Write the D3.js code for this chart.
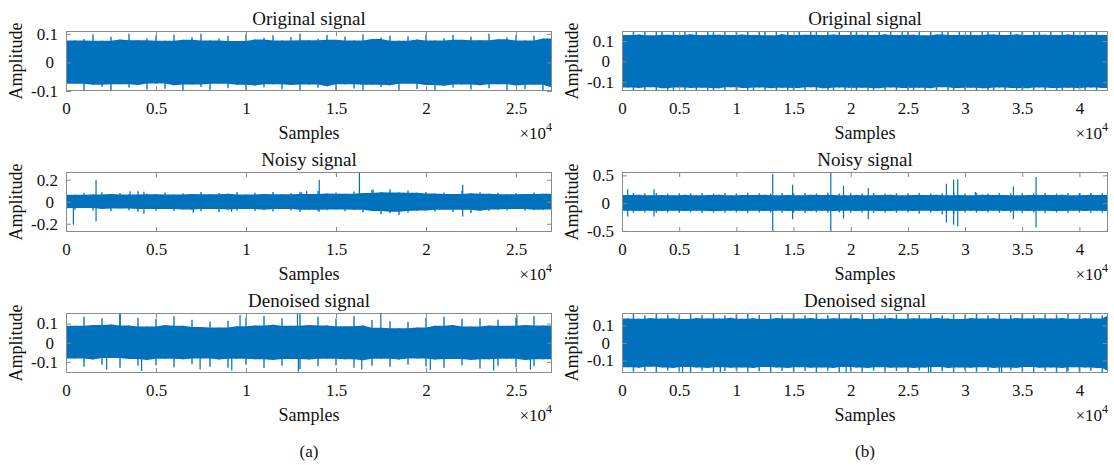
<!DOCTYPE html>
<html>
<head>
<meta charset="utf-8">
<title>Signals</title>
<script src="https://cdnjs.cloudflare.com/ajax/libs/d3/7.8.5/d3.min.js"></script>
<style>
body { margin: 0; background: #fff; }
text { font-family: "Liberation Serif", "Times New Roman", Tinos, "DejaVu Serif", serif; fill: #111; }
.box { fill: none; stroke: #8a8a8a; stroke-width: 1; }
.axis path { display: none; }
.axis line { stroke: #8a8a8a; }
.axis text { font-family: "Liberation Serif", "Times New Roman", Tinos, "DejaVu Serif", serif; font-size: 17px; fill: #111; }
.core { fill: #0072bd; stroke: none; }
.peak { stroke: #0072bd; stroke-width: 1.5; stroke-opacity: 0.9; }
.spike { stroke: #0072bd; stroke-width: 1.2; }
</style>
</head>
<body>
<svg width="1114" height="465"></svg>
<script>
// envelope of each signal, one value every 500 samples (max / min)
var step = 500;
var lenA = 27000, lenB = 42500;

var origAHi = [.096,.077,.082,.099,.076,.090,.080,.100,.078,.085, .094,.076,.097,.079,.088,.100,.077,.084,.093,.075,
  .098,.080,.086,.095,.077,.089,.100,.078,.083,.096, .079,.091,.077,.099,.082,.087,.094,.076,.092,.080,
  .098,.077,.085,.096,.079,.090,.078,.100,.081,.088, .095,.077,.093,.084,.100];
var origALo = [-.090,-.075,-.099,-.078,-.085,-.100,-.076,-.088,-.079,-.095, -.074,-.092,-.080,-.100,-.077,-.086,-.096,-.075,-.090,-.078,
  -.099,-.081,-.087,-.076,-.094,-.079,-.100,-.077,-.089,-.083, -.097,-.076,-.091,-.100,-.078,-.086,-.080,-.098,-.075,-.093,
  -.079,-.100,-.082,-.088,-.077,-.095,-.080,-.090,-.076,-.099, -.081,-.094,-.078,-.097,-.088];

var noisyAHi = [.072,.063,.082,.066,.086,.070,.079,.065,.096,.072, .068,.084,.066,.077,.070,.089,.067,.079,.072,.085,
  .066,.082,.070,.088,.068,.078,.091,.071,.098,.074, .084,.072,.094,.079,.106,.086,.114,.084,.102,.082,
  .089,.074,.084,.070,.102,.077,.086,.072,.082,.068, .079,.070,.084,.072,.077];
var noisyALo = [-.060,-.074,-.058,-.079,-.066,-.084,-.062,-.077,-.090,-.067, -.082,-.065,-.084,-.070,-.076,-.086,-.066,-.096,-.070,-.079,
  -.065,-.084,-.072,-.089,-.067,-.079,-.094,-.072,-.084,-.077, -.070,-.086,-.074,-.096,-.084,-.114,-.090,-.120,-.098,-.084,
  -.079,-.089,-.072,-.094,-.074,-.102,-.082,-.084,-.070,-.079, -.067,-.082,-.072,-.077,-.070];

var denAHi = [.120,.088,.135,.092,.128,.095,.150,.090,.130,.085, .125,.092,.138,.088,.120,.082,.110,.080,.115,.086,
  .132,.090,.140,.094,.128,.088,.150,.092,.135,.090, .126,.086,.138,.090,.118,.078,.112,.076,.108,.080,
  .130,.088,.136,.092,.125,.085,.128,.090,.120,.088, .132,.092,.138,.090,.125];
var denALo = [-.110,-.082,-.125,-.088,-.115,-.080,-.130,-.085,-.120,-.090, -.118,-.084,-.128,-.086,-.112,-.082,-.125,-.088,-.130,-.084,
  -.115,-.086,-.132,-.090,-.120,-.085,-.138,-.088,-.122,-.084, -.118,-.086,-.130,-.092,-.120,-.084,-.126,-.088,-.115,-.082,
  -.124,-.088,-.130,-.085,-.118,-.090,-.135,-.086,-.120,-.084, -.128,-.090,-.122,-.086,-.118];

var origBHi = [.146,.130,.145,.132,.147,.128,.144,.146,.131,.145, .129,.147,.133,.145,.130,.146,.144,.131,.147,.129,
  .145,.132,.146,.130,.147,.145,.128,.146,.133,.144, .130,.147,.131,.145,.146,.129,.147,.132,.145,.130,
  .146,.144,.131,.147,.129,.145,.133,.146,.130,.147, .145,.131,.146,.128,.147,.132,.145,.146,.130,.144,
  .131,.147,.129,.146,.145,.132,.147,.130,.145,.133, .146,.129,.147,.144,.131,.146,.130,.147,.132,.145,
  .129,.146,.131,.147,.130,.145];
var origBLo = [-.143,-.128,-.144,-.130,-.142,-.127,-.144,-.131,-.143,-.142, -.128,-.144,-.130,-.143,-.129,-.144,-.142,-.131,-.144,-.127,
  -.143,-.130,-.144,-.142,-.128,-.144,-.131,-.143,-.129,-.144, -.142,-.130,-.144,-.127,-.143,-.131,-.144,-.142,-.128,-.143,
  -.130,-.144,-.129,-.143,-.142,-.131,-.144,-.128,-.143,-.130, -.144,-.142,-.129,-.144,-.131,-.143,-.127,-.144,-.142,-.130,
  -.143,-.129,-.144,-.131,-.142,-.144,-.128,-.143,-.130,-.144, -.142,-.131,-.143,-.128,-.144,-.130,-.143,-.142,-.129,-.144,
  -.131,-.143,-.128,-.144,-.130,-.143];

var noisyBHi = [.172,.144,.184,.150,.178,.140,.182,.147,.172,.143, .179,.150,.175,.143,.184,.146,.172,.151,.180,.141,
  .175,.147,.184,.144,.177,.150,.172,.140,.182,.146, .176,.143,.184,.150,.174,.145,.186,.147,.172,.143,
  .179,.148,.175,.141,.184,.146,.172,.151,.180,.143, .176,.147,.184,.144,.174,.150,.179,.140,.195,.146,
  .172,.143,.182,.150,.175,.145,.184,.147,.172,.141, .179,.148,.175,.144,.184,.146,.174,.150,.180,.143,
  .175,.147,.182,.144,.178,.150];
var noisyBLo = [-.167,-.138,-.172,-.144,-.170,-.136,-.175,-.140,-.168,-.138, -.172,-.143,-.167,-.137,-.176,-.140,-.169,-.144,-.172,-.136,
  -.168,-.141,-.175,-.138,-.170,-.144,-.167,-.136,-.174,-.140, -.169,-.138,-.176,-.143,-.168,-.139,-.172,-.141,-.167,-.137,
  -.172,-.143,-.169,-.136,-.175,-.140,-.168,-.144,-.172,-.138, -.169,-.141,-.190,-.138,-.168,-.143,-.200,-.137,-.195,-.140,
  -.168,-.139,-.172,-.144,-.169,-.138,-.175,-.141,-.167,-.136, -.172,-.143,-.168,-.139,-.176,-.140,-.169,-.144,-.172,-.137,
  -.168,-.141,-.174,-.138,-.170,-.143];

var denBHi = [.160,.140,.166,.138,.158,.143,.168,.139,.162,.141, .157,.137,.165,.142,.160,.139,.167,.140,.158,.144,
  .163,.138,.166,.141,.159,.137,.164,.142,.161,.139, .167,.140,.158,.143,.165,.138,.160,.141,.166,.139,
  .159,.142,.164,.137,.168,.140,.158,.143,.162,.138, .165,.141,.160,.139,.167,.142,.158,.140,.164,.137,
  .161,.143,.166,.139,.158,.141,.165,.138,.160,.142, .167,.139,.159,.141,.164,.140,.162,.143,.166,.138,
  .160,.141,.165,.139,.158,.162];
var denBLo = [-.158,-.138,-.164,-.141,-.160,-.136,-.166,-.140,-.157,-.142, -.162,-.137,-.165,-.140,-.158,-.143,-.167,-.138,-.160,-.141,
  -.156,-.139,-.164,-.142,-.161,-.137,-.166,-.140,-.159,-.143, -.163,-.138,-.160,-.141,-.167,-.139,-.158,-.142,-.165,-.137,
  -.161,-.140,-.166,-.143,-.158,-.138,-.164,-.141,-.160,-.139, -.167,-.142,-.157,-.140,-.165,-.137,-.161,-.143,-.166,-.139,
  -.158,-.141,-.164,-.138,-.160,-.142,-.167,-.140,-.157,-.143, -.163,-.137,-.166,-.141,-.159,-.139,-.165,-.142,-.160,-.138,
  -.164,-.140,-.158,-.143,-.166,-.160];

// isolated spikes: [sample, top, bottom]
var origASpikes = [];
var origBSpikes = [];
var noisyASpikes = [[410,.04,-.21],[1670,.2,-.18],[3560,.095,-.04],[4330,.09,-.11],[7070,.04,-.1],[9200,.03,-.092],
  [13100,.085,-.05],[13370,.1,-.04],[14070,.2,-.09],[16300,.27,-.05],[17060,.11,-.06],[18000,.05,-.105],
  [22040,.155,-.135],[26330,.05,-.07]];
var denASpikes = [[3000,.152,-.05],[9670,.145,-.05],[12860,.15,-.05],[17490,.15,-.05],[25050,.145,-.05],
  [2260,.05,-.14],[4200,.05,-.148],[7450,.05,-.14],[9210,.05,-.145],[12910,.05,-.15],[16430,.05,-.14],
  [20240,.05,-.142],[23760,.05,-.145],[25800,.05,-.14]];
var noisyBSpikes = [[500,.25,-.24],[2800,.25,-.24],[13180,.53,-.5],[14920,.33,-.29],[18260,.56,-.52],[19370,.31,-.28],
  [21540,.27,-.29],[28370,.35,-.35],[29000,.42,-.39],[29360,.43,-.42],[30900,.2,-.12],[34230,.3,-.29],
  [36210,.47,-.44],[40040,.18,-.12]];
var denBSpikes = [[5300,.05,-.17],[8600,.05,-.168],[19600,.05,-.17],[26800,.05,-.169],[33200,.05,-.17],[38900,.05,-.168]];

var titles = ["Original signal", "Noisy signal", "Denoised signal"];
var yDomainsA = [[-0.1, 0.11], [-0.275, 0.27], [-0.158, 0.155]];
var yDomainsB = [[-0.145, 0.149], [-0.52, 0.56], [-0.171, 0.171]];
var yTicksA = [[-0.1, 0, 0.1], [-0.2, 0, 0.2], [-0.1, 0, 0.1]];
var yTicksB = [[-0.1, 0, 0.1], [-0.5, 0, 0.5], [-0.1, 0, 0.1]];
var xTicksA = [0, 5000, 10000, 15000, 20000, 25000];
var xTicksB = [0, 5000, 10000, 15000, 20000, 25000, 30000, 35000, 40000];
var captions = ["(a)", "(b)"];

var svg = d3.select("svg");
var boxW = 486, boxH = 60;
var colLeft = [66, 622];
var rowTop = [31, 172, 313];

var cols = [
  { len: lenA, xt: xTicksA, yd: yDomainsA, yt: yTicksA,
    sig: [[origAHi, origALo, origASpikes], [noisyAHi, noisyALo, noisyASpikes], [denAHi, denALo, denASpikes]] },
  { len: lenB, xt: xTicksB, yd: yDomainsB, yt: yTicksB,
    sig: [[origBHi, origBLo, origBSpikes], [noisyBHi, noisyBLo, noisyBSpikes], [denBHi, denBLo, denBSpikes]] }
];

cols.forEach(function (c, ci) {
  c.sig.forEach(function (s, ri) {
    var x0 = colLeft[ci], y0 = rowTop[ri];
    var x = d3.scaleLinear().domain([0, c.len]).range([x0, x0 + boxW]);
    var y = d3.scaleLinear().domain(c.yd[ri]).range([y0 + boxH, y0]);
    var clipId = "clip" + ci + ri;
    svg.append("clipPath").attr("id", clipId)
      .append("rect").attr("x", x0).attr("y", y0).attr("width", boxW).attr("height", boxH);

    var g = svg.append("g").attr("clip-path", "url(#" + clipId + ")");
    var hi = s[0], lo = s[1];
    // solid body: the lower of neighbouring peaks; the peaks themselves as thin strokes
    var pts = hi.map(function (v, i) {
      return [i * step,
        d3.min(hi.slice(Math.max(0, i - 1), i + 2)),
        d3.max(lo.slice(Math.max(0, i - 1), i + 2)), v, lo[i]];
    });
    var area = d3.area()
      .x(function (d) { return x(d[0]); })
      .y0(function (d) { return y(d[2]); })
      .y1(function (d) { return y(d[1]); });
    g.append("path").attr("class", "core").attr("d", area(pts));
    g.selectAll(".peak").data(pts).enter().append("line")
      .attr("class", "peak")
      .attr("x1", function (d) { return x(d[0]); })
      .attr("x2", function (d) { return x(d[0]); })
      .attr("y1", function (d) { return y(d[3]); })
      .attr("y2", function (d) { return y(d[4]); });
    g.selectAll(".spike").data(s[2]).enter().append("line")
      .attr("class", "spike")
      .attr("x1", function (d) { return x(d[0]); })
      .attr("x2", function (d) { return x(d[0]); })
      .attr("y1", function (d) { return y(d[1]); })
      .attr("y2", function (d) { return y(d[2]); });

    svg.append("rect").attr("class", "box")
      .attr("x", x0 + 0.5).attr("y", y0 + 0.5).attr("width", boxW - 1).attr("height", boxH - 1);

    var fx = function (d) { return String(d / 1e4); };
    svg.append("g").attr("class", "axis")
      .attr("transform", "translate(0," + (y0 + boxH) + ")")
      .call(d3.axisBottom(x).tickValues(c.xt).tickSize(-5).tickPadding(11).tickFormat(fx));
    svg.append("g").attr("class", "axis")
      .attr("transform", "translate(0," + y0 + ")")
      .call(d3.axisTop(x).tickValues(c.xt).tickSize(-5).tickFormat(""));
    var ya = svg.append("g").attr("class", "axis")
      .attr("transform", "translate(" + x0 + ",0)")
      .call(d3.axisLeft(y).tickValues(c.yt[ri]).tickSize(-5).tickPadding(8).tickFormat(String));
    ya.selectAll("text").filter(function (d) { return d === 0; }).attr("dx", -4);
    svg.append("g").attr("class", "axis")
      .attr("transform", "translate(" + (x0 + boxW) + ",0)")
      .call(d3.axisRight(y).tickValues(c.yt[ri]).tickSize(-5).tickFormat(""));

    var cx = x0 + boxW / 2;
    svg.append("text").attr("x", cx).attr("y", y0 - 6)
      .attr("text-anchor", "middle").style("font-size", "19px").text(titles[ri]);
    svg.append("text").attr("x", cx).attr("y", y0 + boxH + 48)
      .attr("text-anchor", "middle").style("font-size", "18px").text("Samples");
    var ex = svg.append("text").attr("x", x0 + boxW).attr("y", y0 + boxH + 48)
      .attr("text-anchor", "end").style("font-size", "17px");
    ex.append("tspan").text("\u00d710");
    ex.append("tspan").attr("dy", -8).style("font-size", "12px").text("4");
    svg.append("text")
      .attr("transform", "translate(" + (x0 - 44) + "," + (y0 + boxH / 2) + ") rotate(-90)")
      .attr("text-anchor", "middle").style("font-size", "18px").text("Amplitude");
  });
  svg.append("text").attr("x", colLeft[ci] + boxW / 2).attr("y", 457)
    .attr("text-anchor", "middle").style("font-size", "17px").text(captions[ci]);
});
</script>
</body>
</html>
